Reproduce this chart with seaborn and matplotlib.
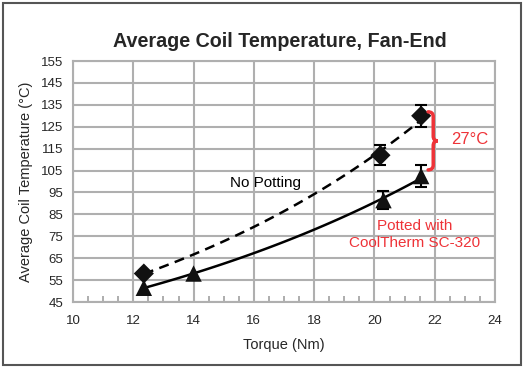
import numpy as np
import pandas as pd
import matplotlib
matplotlib.use("Agg")
import matplotlib.pyplot as plt
import seaborn as sns
from matplotlib.path import Path
from matplotlib.patches import PathPatch, Rectangle
from matplotlib.ticker import MultipleLocator

# ---- data ----
x_no_potting = [12.35, 20.2, 21.55]
y_no_potting = [58.0, 112.0, 130.0]
err_no_potting = [0.0, 4.5, 5.0]

x_potted = [12.35, 14.0, 20.3, 21.55]
y_potted = [51.5, 58.0, 91.5, 102.5]
err_potted = [0.0, 0.0, 4.0, 5.0]

x_ticks = [10, 12, 14, 16, 18, 20, 22, 24]
y_ticks = [45, 55, 65, 75, 85, 95, 105, 115, 125, 135, 145, 155]
delta_label = "27°C"
brace_span = [105.3, 131.8]

RED = "#EE3338"
GRID = "#AFAFAF"

sns.set_style("white")
plt.rcParams["font.family"] = ["Liberation Sans", "DejaVu Sans"]

fig = plt.figure(figsize=(5.24, 3.68), dpi=100)
ax = fig.add_axes([0.1393, 0.1793, 0.9447 - 0.1393, 0.8342 - 0.1793])


def exp_fit(x, y):
    b, a = np.polyfit(np.array(x), np.log(np.array(y)), 1)
    xs = np.linspace(min(x), max(x), 100)
    return pd.DataFrame({"x": xs, "y": np.exp(a + b * xs)})


fit_no = exp_fit(x_no_potting, y_no_potting)
fit_pot = exp_fit(x_potted, y_potted)

sns.lineplot(data=fit_no, x="x", y="y", ax=ax, color="black", lw=1.8,
             linestyle=(0, (4, 2.6)), zorder=3)
sns.lineplot(data=fit_pot, x="x", y="y", ax=ax, color="black", lw=1.8, zorder=3)

df_no = pd.DataFrame({"x": x_no_potting, "y": y_no_potting, "e": err_no_potting})
df_pot = pd.DataFrame({"x": x_potted, "y": y_potted, "e": err_potted})

for df in (df_no, df_pot):
    m = df["e"] > 0
    ax.errorbar(df.loc[m, "x"], df.loc[m, "y"], yerr=df.loc[m, "e"], fmt="none",
                ecolor="black", elinewidth=1.5, capsize=4, capthick=1.5, zorder=4)

sns.scatterplot(data=df_no, x="x", y="y", ax=ax, marker="D", s=105, color="#111111",
                edgecolor="none", zorder=5)
sns.scatterplot(data=df_pot, x="x", y="y", ax=ax, marker="^", s=140, color="#111111",
                edgecolor="none", zorder=5)

ax.set_xlim(10, 24)
ax.set_ylim(45, 155)
ax.set_xticks(x_ticks)
ax.set_yticks(y_ticks)
ax.set_xticklabels([str(t) for t in x_ticks], fontsize=9.5)
ax.set_yticklabels([str(t) for t in y_ticks], fontsize=9.5)
ax.xaxis.set_minor_locator(MultipleLocator(0.5))
ax.grid(True, which="major", color=GRID, lw=1.5)
ax.set_axisbelow(True)
for s in ax.spines.values():
    s.set_color(GRID)
    s.set_linewidth(1.5)
ax.tick_params(axis="x", which="major", length=0, pad=9)
ax.tick_params(axis="x", which="minor", direction="in", length=4.5, width=1.2,
               color="#A0A0A0", bottom=True)
ax.tick_params(axis="y", which="major", length=0, pad=7)
ax.set_xlabel("Torque (Nm)", fontsize=10.5, labelpad=8)
ax.set_ylabel("Average Coil Temperature (°C)", fontsize=10.5, labelpad=6)
ax.set_title("Average Coil Temperature, Fan-End", fontsize=14.2, fontweight="bold",
             pad=10, x=0.49)

# annotations
ax.text(16.4, 99.5, "No Potting", fontsize=11, ha="center", va="center", color="black")
ax.text(21.33, 75.8, "Potted with\nCoolTherm SC-320", fontsize=11, ha="center",
        va="center", color=RED, linespacing=1.3)
ax.text(22.55, 119.3, delta_label, fontsize=12, ha="left", va="center", color=RED)

# curly brace
xc, h, t, r = 21.95, 0.17, 0.15, 2.2
yb, yt = brace_span
ym = (yb + yt) / 2
verts = [(xc - h, yt), (xc, yt), (xc, yt - r),
         (xc, ym + r), (xc, ym), (xc + t, ym),
         (xc, ym), (xc, ym - r),
         (xc, yb + r), (xc, yb), (xc - h, yb)]
codes = [Path.MOVETO, Path.CURVE3, Path.CURVE3,
         Path.LINETO, Path.CURVE3, Path.CURVE3,
         Path.CURVE3, Path.CURVE3,
         Path.LINETO, Path.CURVE3, Path.CURVE3]
ax.add_patch(PathPatch(Path(verts, codes), fill=False, edgecolor=RED, lw=2.5,
                       capstyle="round", zorder=6, clip_on=False))

fig.patches.append(Rectangle((0.006, 0.008), 0.988, 0.985, transform=fig.transFigure,
                             fill=False, edgecolor="#555555", lw=1.5))

fig.savefig("out.png", dpi=100)
